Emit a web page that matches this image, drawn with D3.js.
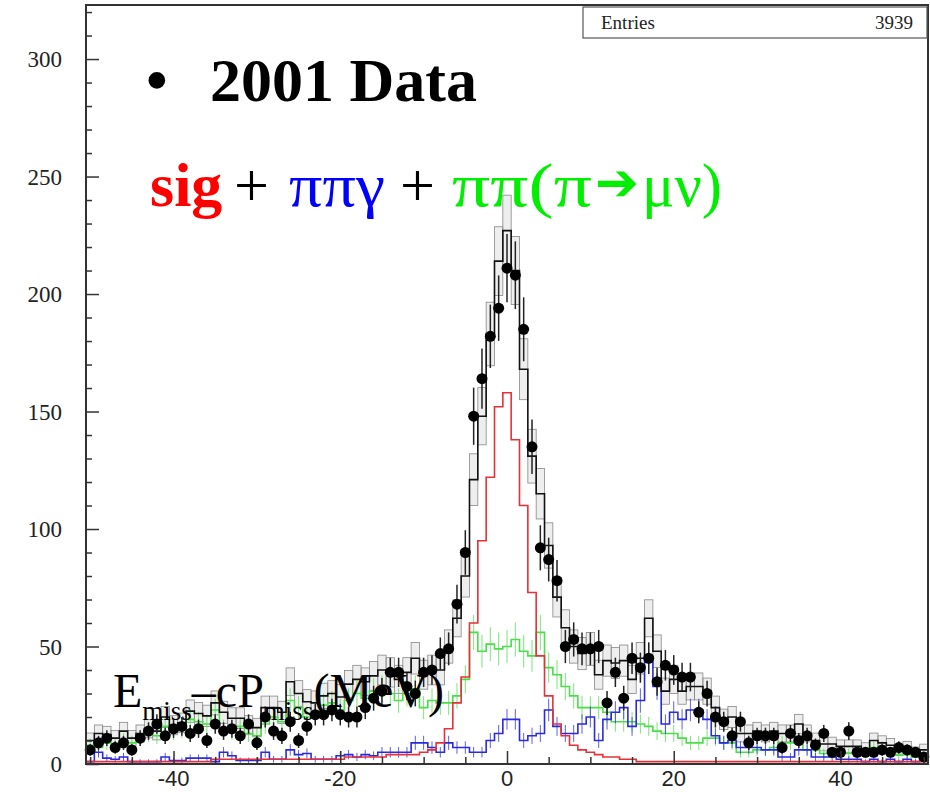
<!DOCTYPE html>
<html>
<head>
<meta charset="utf-8">
<script src="https://cdn.jsdelivr.net/npm/d3@7"></script>
<style>
  body { margin: 0; background: #fff; }
  svg { display: block; }
</style>
</head>
<body>
<svg id="chart" width="930" height="792"></svg>
<script>
// bin centres, 1 MeV wide bins from -50 to 50
var binCenters = d3.range(-50, 51);

// 2001 data (black points)
var dataCounts = [
  6, 9, 11, 7, 9, 6, 11, 14, 17, 12,
  15, 16, 13, 15, 10, 17, 14, 15, 12, 17,
  9, 20, 14, 12, 18, 10, 16, 21, 21, 23,
  21, 20, 20, 24, 28, 31, 39, 39, 33, 30,
  39, 40, 47, 49, 68, 90, 148, 164, 182, 194,
  211,
  208, 185, 135, 92, 87, 78, 50, 53, 49, 49,
  50, 26, 39, 28, 45, 41, 45, 35, 42, 40,
  37, 37, 22, 30, 20, 18, 12, 18, 9, 12,
  12, 12, 7, 13, 10, 12, 8, 13, 5, 5,
  14, 5, 5, 5, 6, 5, 7, 6, 5, 3
];

// signal MC (red)
var sigCounts = [
  1, 1, 1, 1, 1, 1, 1, 1, 1, 1,
  1, 1, 1, 1, 1, 2, 2, 2, 2, 2,
  2, 2, 2, 2, 2, 2, 2, 2, 2, 2,
  2, 3, 3, 3, 3, 3, 4, 4, 4, 4,
  5, 6, 9, 15, 26, 37, 60, 95, 122, 152,
  158,
  138, 110, 73, 46, 29, 17, 12, 8, 6, 5,
  4, 3, 3, 2, 2, 1, 1, 1, 1, 1,
  1, 1, 1, 1, 1, 1, 1, 1, 1, 1,
  1, 1, 1, 1, 1, 1, 1, 1, 1, 1,
  1, 1, 1, 1, 1, 1, 1, 1, 1, 1
];

// pi pi gamma MC (blue)
var ppgCounts = [
  1, 5, 2.5, 2, 3, 1, 1, 1, 1, 3,
  1.5, 1.5, 2.5, 2.5, 2.5, 1, 5, 3.5, 1.5, 1.5,
  1.5, 5, 2, 2, 6, 4, 4.5, 2, 2, 2,
  3.5, 4, 3, 4, 3.5, 5, 5, 5, 5, 9,
  9, 7, 5, 9, 7, 7, 5, 5, 10, 13,
  19,
  19, 10, 12, 13, 23, 16, 13, 13, 17, 20,
  10, 19, 22, 24, 16, 27, 45, 33, 17, 22,
  19, 23, 23, 19, 12, 9, 10, 7, 7, 7,
  6, 6, 3, 3, 6, 6, 3, 3, 3, 2,
  2, 2, 1, 2, 1, 2, 1, 2, 1, 2
];

// pi pi (pi -> mu nu) MC (green)
var ppmCounts = [
  8, 7, 9, 8, 10, 9, 11, 13, 12, 16,
  14, 15, 19, 18, 17, 23, 15, 14, 16, 13,
  12, 17, 20, 18, 27, 24, 20, 22, 25, 26,
  23, 27, 30, 28, 31, 32, 30, 27, 30, 32,
  24, 27, 26, 26, 29, 36, 56, 48, 51, 49,
  50,
  53, 48, 46, 56, 41, 38, 33, 29, 24, 24,
  24, 22, 18, 18, 18, 17, 16, 14, 13, 13,
  11, 9, 9, 11, 11, 9, 9, 5, 5, 6,
  6, 7, 9, 9, 10, 6, 6, 4.5, 4.5, 4.5,
  4.5, 4.5, 4.5, 7, 7, 5, 4, 4, 3, 3
];

var yTicks = [0, 50, 100, 150, 200, 250, 300];
var xTicks = [-40, -20, 0, 20, 40];
var entries = 3939;

var svg = d3.select("#chart");

var x = d3.scaleLinear().domain([-50.5, 50.5]).range([86, 928]);
var y = d3.scaleLinear().domain([0, 323]).range([764, 5]);

var bins = binCenters.map(function(c, i) {
  var tot = sigCounts[i] + ppgCounts[i] + ppmCounts[i];
  return { c: c, data: dataCounts[i], sig: sigCounts[i], ppg: ppgCounts[i], ppm: ppmCounts[i], tot: tot };
});

var plot = svg.append("g");

// step outline of a histogram
function stepPoints(key) {
  var pts = [];
  bins.forEach(function(b) {
    pts.push([b.c - 0.5, b[key]]);
    pts.push([b.c + 0.5, b[key]]);
  });
  return pts;
}
var stepLine = d3.line()
  .x(function(d) { return x(d[0]); })
  .y(function(d) { return y(d[1]); });

// MC total error boxes
plot.selectAll("rect.mcbox")
  .data(bins)
  .enter().append("rect")
    .attr("class", "mcbox")
    .attr("x", function(d) { return x(d.c - 0.5); })
    .attr("width", function(d) { return x(d.c + 0.5) - x(d.c - 0.5); })
    .attr("y", function(d) { return y(d.tot + Math.sqrt(d.tot)); })
    .attr("height", function(d) { return y(Math.max(0, d.tot - Math.sqrt(d.tot))) - y(d.tot + Math.sqrt(d.tot)); })
    .attr("fill", "#d4d4d4")
    .attr("fill-opacity", 0.4)
    .attr("stroke", "#888")
    .attr("stroke-width", 0.8);

// component histograms with small error bars
[["ppm", "#4ade4a"], ["ppg", "#2a2adf"]].forEach(function(s) {
  var key = s[0], col = s[1];
  plot.selectAll("line.err-" + key)
    .data(bins)
    .enter().append("line")
      .attr("x1", function(d) { return x(d.c); })
      .attr("x2", function(d) { return x(d.c); })
      .attr("y1", function(d) { return y(d[key] + Math.sqrt(d[key])); })
      .attr("y2", function(d) { return y(Math.max(0, d[key] - Math.sqrt(d[key]))); })
      .attr("stroke", col)
      .attr("stroke-opacity", 0.75)
      .attr("stroke-width", 1);
  plot.append("path")
    .attr("d", stepLine(stepPoints(key)))
    .attr("fill", "none")
    .attr("stroke", col)
    .attr("stroke-width", 1.6);
});

plot.append("path")
  .attr("d", stepLine(stepPoints("sig")))
  .attr("fill", "none")
  .attr("stroke", "#e8303a")
  .attr("stroke-width", 1.6);

// MC total
plot.append("path")
  .attr("d", stepLine(stepPoints("tot")))
  .attr("fill", "none")
  .attr("stroke", "#111")
  .attr("stroke-width", 1.6);

// data points
plot.selectAll("line.derr")
  .data(bins)
  .enter().append("line")
    .attr("x1", function(d) { return x(d.c); })
    .attr("x2", function(d) { return x(d.c); })
    .attr("y1", function(d) { return y(d.data + Math.sqrt(d.data)); })
    .attr("y2", function(d) { return y(Math.max(0, d.data - Math.sqrt(d.data))); })
    .attr("stroke", "#222")
    .attr("stroke-width", 1.5);
plot.selectAll("circle.dot")
  .data(bins)
  .enter().append("circle")
    .attr("cx", function(d) { return x(d.c); })
    .attr("cy", function(d) { return y(d.data); })
    .attr("r", 5.5)
    .attr("fill", "#000");

// frame and axes
svg.append("rect")
  .attr("x", 86).attr("y", 5)
  .attr("width", 842).attr("height", 759)
  .attr("fill", "none")
  .attr("stroke", "#333")
  .attr("stroke-width", 2);

var yAxis = d3.axisRight(y).tickValues(d3.range(0, 321, 10)).tickFormat("")
  .tickSize(6).tickSizeOuter(0);
svg.append("g").attr("transform", "translate(86,0)").call(yAxis)
  .call(function(g) {
    g.select(".domain").remove();
    g.selectAll(".tick line")
      .attr("stroke", "#333").attr("stroke-width", 1.5)
      .attr("x2", function(d) { return d % 50 === 0 ? 13 : 6; });
  });
svg.append("g").selectAll("text")
  .data(yTicks)
  .enter().append("text")
    .attr("x", 62)
    .attr("y", function(d) { return y(d) + 8; })
    .attr("text-anchor", "end")
    .attr("font-family", "Liberation Serif, serif")
    .attr("font-size", 23)
    .attr("fill", "#222")
    .text(function(d) { return d; });

var xAxis = d3.axisTop(x).tickValues(d3.range(-50, 51, 5)).tickFormat("")
  .tickSize(6).tickSizeOuter(0);
svg.append("g").attr("transform", "translate(0,764)").call(xAxis)
  .call(function(g) {
    g.select(".domain").remove();
    g.selectAll(".tick line")
      .attr("stroke", "#333").attr("stroke-width", 1.5)
      .attr("y2", function(d) { return d % 20 === 0 ? -13 : -7; });
  });
svg.append("g").selectAll("text")
  .data(xTicks)
  .enter().append("text")
    .attr("x", function(d) { return x(d); })
    .attr("y", 786)
    .attr("text-anchor", "middle")
    .attr("font-family", "Liberation Sans, Arial, sans-serif")
    .attr("font-size", 22)
    .attr("fill", "#222")
    .text(function(d) { return d; });

// stats box
svg.append("rect")
  .attr("x", 583).attr("y", 7).attr("width", 344).attr("height", 31)
  .attr("fill", "#fff").attr("stroke", "#555").attr("stroke-width", 1.2);
svg.append("text")
  .attr("x", 601).attr("y", 29)
  .attr("font-family", "Liberation Serif, serif").attr("font-size", 19)
  .attr("fill", "#222").text("Entries");
svg.append("text")
  .attr("x", 913).attr("y", 29).attr("text-anchor", "end")
  .attr("font-family", "Liberation Serif, serif").attr("font-size", 19)
  .attr("fill", "#222").text(entries);

// annotations
var t1 = svg.append("text")
  .attr("y", 101)
  .attr("font-family", "Liberation Serif, Times New Roman, serif")
  .attr("font-weight", "bold")
  .attr("font-size", 62)
  .attr("fill", "#000");
t1.append("tspan").attr("x", 146).text("\u2022");
t1.append("tspan").attr("x", 210).text("2001 Data");

// legend line, each piece placed where the reference has it
var legendParts = [
  { text: "sig", x: 150, len: null, fill: "#ff0000", bold: true },
  { text: "+", x: 234, len: null, fill: "#000" },
  { text: "\u03c0\u03c0\u03b3", x: 289, len: 96, fill: "#0000ff" },
  { text: "+", x: 400, len: null, fill: "#000" },
  { text: "\u03c0\u03c0(\u03c0", x: 452, len: 140, fill: "#00ee00" },
  { text: "\u2794", x: 595, len: 44, fill: "#00ee00", arrow: true },
  { text: "\u03bc\u03bd)", x: 642, len: 80, fill: "#00ee00" }
];
svg.append("g").selectAll("text")
  .data(legendParts)
  .enter().append("text")
    .attr("x", function(d) { return d.x; })
    .attr("y", function(d) { return d.arrow ? 200 : 206; })
    .attr("font-family", function(d) { return d.arrow ? "DejaVu Sans, sans-serif" : "Liberation Serif, Times New Roman, serif"; })
    .attr("font-size", function(d) { return d.arrow ? 52 : 62; })
    .attr("font-weight", function(d) { return d.bold ? "bold" : "normal"; })
    .attr("fill", function(d) { return d.fill; })
    .each(function(d) {
      if (d.len) d3.select(this).attr("textLength", d.len).attr("lengthAdjust", "spacingAndGlyphs");
    })
    .text(function(d) { return d.text; });

var t3 = svg.append("text")
  .attr("y", 707)
  .attr("font-family", "Liberation Serif, Times New Roman, serif")
  .attr("font-size", 48)
  .attr("fill", "#000");
t3.append("tspan").attr("x", 113).text("E");
t3.append("tspan").attr("font-size", 27).attr("dy", 13).text("miss");
t3.append("tspan").attr("dy", -13).text("\u2013cP");
t3.append("tspan").attr("font-size", 27).attr("dy", 13).text("miss");
t3.append("tspan").attr("dy", -13).text("(MeV)");
</script>
</body>
</html>
